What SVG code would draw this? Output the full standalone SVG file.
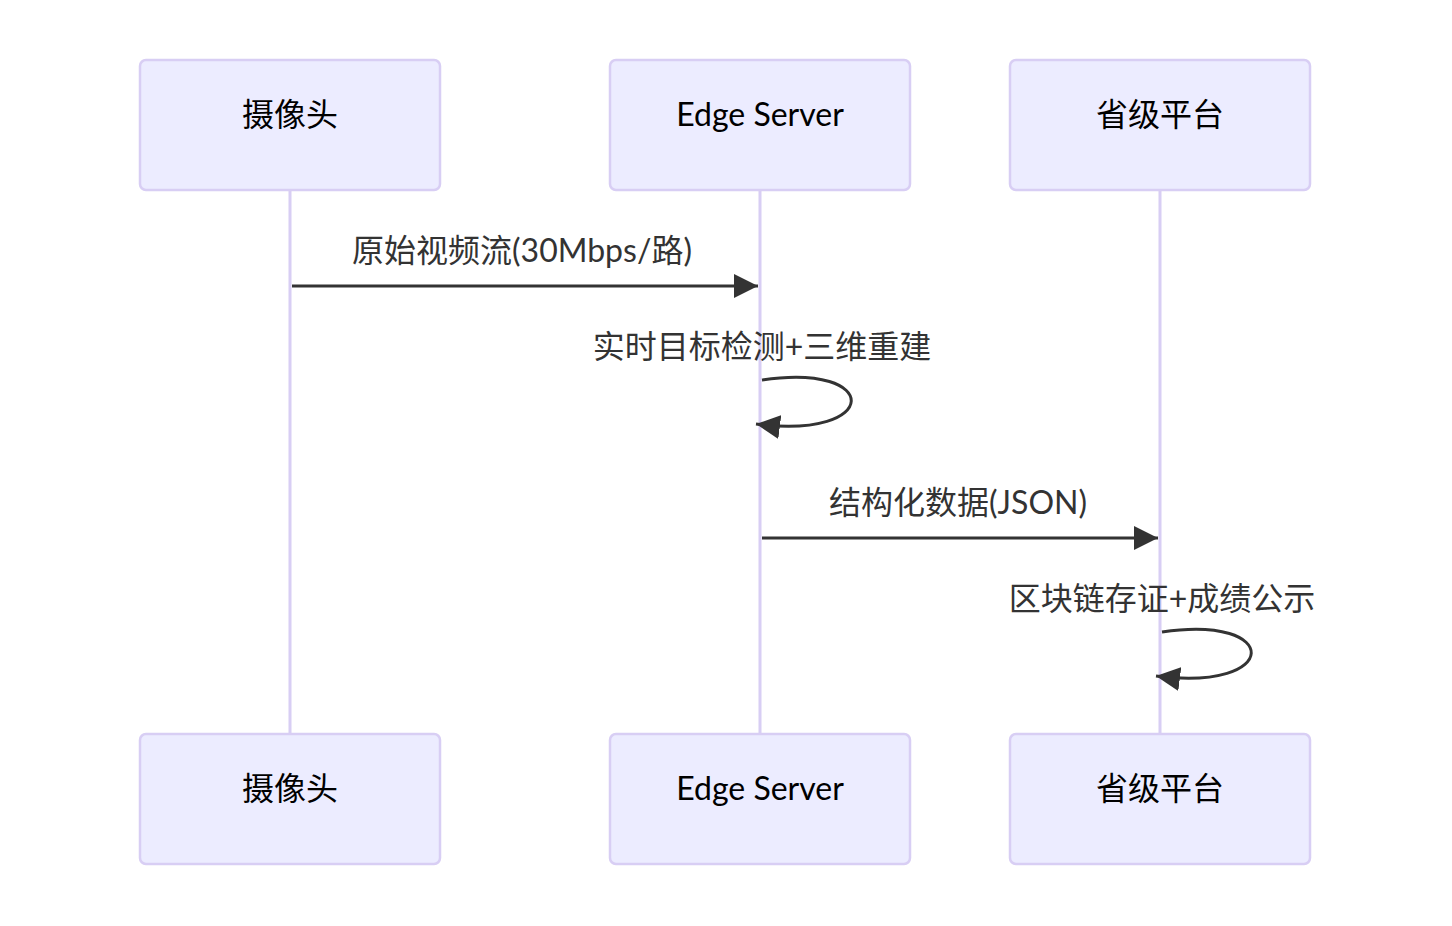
<svg xmlns="http://www.w3.org/2000/svg" width="1452" height="926" viewBox="0 0 1452 926">
<defs>
<style>
.actor{fill:#ECECFF;stroke:#D8CEF4;stroke-width:2.5}
.atext{font-family:Lato,"Noto Sans CJK SC",sans-serif;font-size:32px;fill:#000;text-anchor:middle;dominant-baseline:central}
.mtext{font-family:Lato,"Noto Sans CJK SC",sans-serif;font-size:32px;fill:#333;text-anchor:middle;dominant-baseline:central}
.life{stroke:#D8CEF4;stroke-width:3;fill:none}
</style>
<marker id="arrowL" viewBox="0 0 24 24" refX="24" refY="12" markerWidth="24" markerHeight="24" markerUnits="userSpaceOnUse" orient="auto">
<path d="M0,0 L24,12 L0,24 z" fill="#333"/>
</marker>
</defs>
<g id="lifelines">
<line class="life" x1="290" y1="190" x2="290" y2="734"/>
<line class="life" x1="760" y1="190" x2="760" y2="734"/>
<line class="life" x1="1160" y1="190" x2="1160" y2="734"/>
</g>
<g id="actor-camera-top"><rect class="actor" x="140" y="60" width="300" height="130" rx="6"/><text class="atext" x="290" y="113">摄像头</text></g>
<g id="actor-edge-top"><rect class="actor" x="610" y="60" width="300" height="130" rx="6"/><text class="atext" x="760" y="113">Edge Server</text></g>
<g id="actor-prov-top"><rect class="actor" x="1010" y="60" width="300" height="130" rx="6"/><text class="atext" x="1160" y="113">省级平台</text></g>
<g id="actor-camera-bottom"><rect class="actor" x="140" y="734" width="300" height="130" rx="6"/><text class="atext" x="290" y="787">摄像头</text></g>
<g id="actor-edge-bottom"><rect class="actor" x="610" y="734" width="300" height="130" rx="6"/><text class="atext" x="760" y="787">Edge Server</text></g>
<g id="actor-prov-bottom"><rect class="actor" x="1010" y="734" width="300" height="130" rx="6"/><text class="atext" x="1160" y="787">省级平台</text></g>
<g id="connectors">
<line x1="292" y1="286" x2="758" y2="286" stroke="#333" stroke-width="3" marker-end="url(#arrowL)"/>
<path d="M762,380 C882,362 882,440 756,424" stroke="#333" stroke-width="3" fill="none" marker-end="url(#arrowL)"/>
<line x1="762" y1="538" x2="1158" y2="538" stroke="#333" stroke-width="3" marker-end="url(#arrowL)"/>
<path d="M1162,632 C1282,614 1282,692 1156,676" stroke="#333" stroke-width="3" fill="none" marker-end="url(#arrowL)"/>
</g>
<g id="labels">
<text class="mtext" x="522" y="249">原始视频流(30Mbps/路)</text>
<text class="mtext" x="762" y="345">实时目标检测+三维重建</text>
<text class="mtext" x="958" y="501">结构化数据(JSON)</text>
<text class="mtext" x="1162" y="597">区块链存证+成绩公示</text>
</g>
</svg>
